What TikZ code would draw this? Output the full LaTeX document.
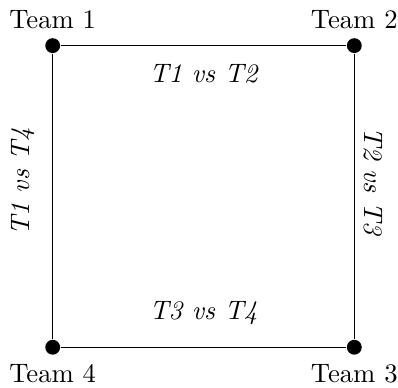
\documentclass[11pt,tikz,border=0pt]{standalone}
\usepackage{amsmath}
\usetikzlibrary{positioning}

\begin{document}
\begin{tikzpicture}[node distance=4.35cm,on grid,
    team/.style={circle,fill,inner sep=0pt,minimum size=6.1pt},
    match/.style={font=\itshape}]
       \useasboundingbox (-0.76,-4.937) rectangle (4.98,0.658);
       \node[team,label=above:Team 1] (1) {};
       \node[team,label=above:Team 2] (2) [right=of 1] {};
       \node[team,label=below:Team 3] (3) [below=of 2] {};
       \node[team,label=below:Team 4] (4) [below=of 1] {};
        \path
        (1) edge node [match,below=0.13cm] {T1 vs T2} (2)
        (2) edge node [match,sloped,above=0cm,pos=0.446] {T2 vs T3} (3)
        (4) edge node [match,above=0.19cm] {T3 vs T4} (3)
            edge node [match,sloped,above=0.13cm,pos=0.552] {T1 vs T4} (1);
\end{tikzpicture}
\end{document}
